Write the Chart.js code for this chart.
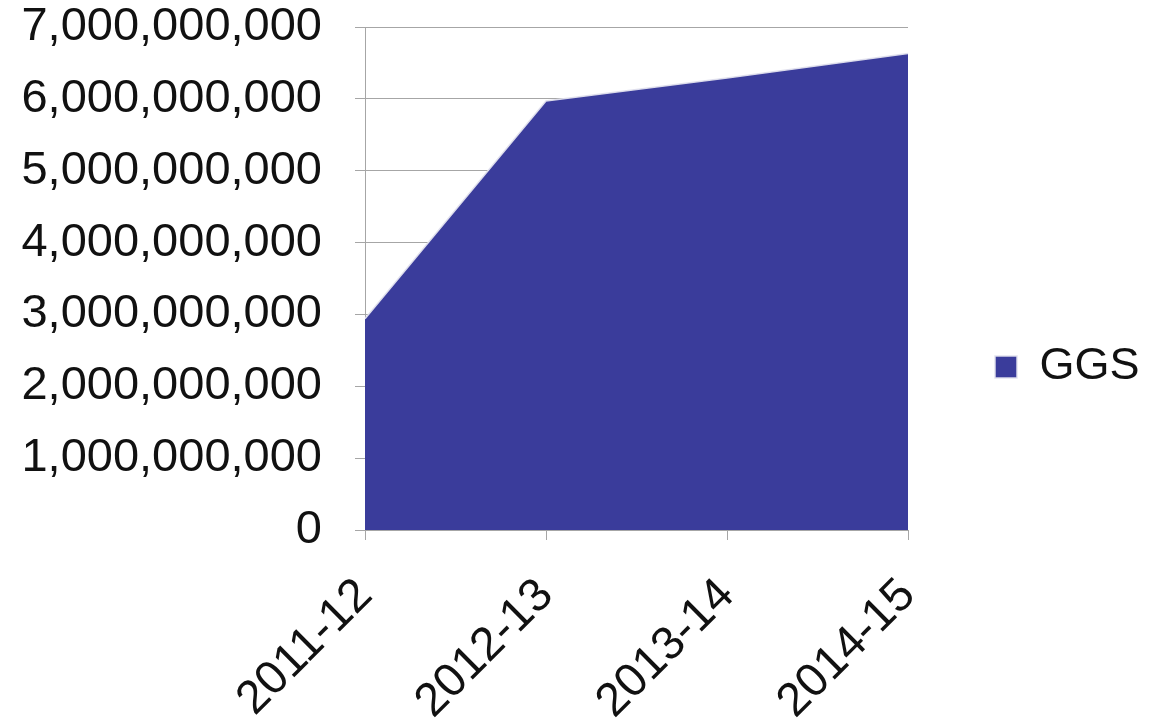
<!DOCTYPE html>
<html>
<head>
<meta charset="utf-8">
<script src="https://cdn.jsdelivr.net/npm/chart.js@4"></script>
<style>
  html, body { margin: 0; padding: 0; background: #fff; }
  #wrap { width: 1150px; height: 720px; position: relative; }
</style>
</head>
<body>
<div id="wrap"><canvas id="ggsChart"></canvas></div>
<script>
(() => {
  'use strict'

  const years = ['2011-12', '2012-13', '2013-14', '2014-15'];
  const ggsValues = [2940000000, 5970000000, 6290000000, 6630000000];
  const yTicks = [0, 1000000000, 2000000000, 3000000000, 4000000000, 5000000000, 6000000000, 7000000000];

  const fillColor = '#3a3c9b';
  const gridColor = '#a6a6a6';
  const fontFamily = '"Liberation Sans", Arial, sans-serif';

  Chart.defaults.font.family = fontFamily;
  Chart.defaults.color = '#111';

  // legend sits in a fixed 242px column on the right, item pushed in a bit
  const legendColumn = {
    id: 'legendColumn',
    beforeLayout(chart) {
      const legend = chart.legend;
      if (!legend || legend._fixedFit) return;
      const fit = legend.fit;
      legend.fit = function () {
        fit.call(this);
        this.width = 242;
      };
      legend._fixedFit = true;
    },
    afterLayout(chart) {
      if (chart.legend) {
        chart.legend.left += 77;
        chart.legend.top += 7;
        chart.legend.bottom += 7;
      }
    }
  };

  const ctx = document.getElementById('ggsChart');
  const ggsChart = new Chart(ctx, {
    type: 'line',
    data: {
      labels: years,
      datasets: [{
        label: 'GGS',
        data: ggsValues,
        fill: 'origin',
        tension: 0,
        backgroundColor: fillColor,
        borderColor: 'rgba(225,225,238,0.95)',
        borderWidth: 1.5,
        pointRadius: 0,
        pointHoverRadius: 0
      }]
    },
    options: {
      responsive: true,
      maintainAspectRatio: false,
      animation: false,
      layout: {
        padding: 0
      },
      scales: {
        x: {
          offset: false,
          grid: {
            display: true,
            drawOnChartArea: false,
            drawTicks: true,
            tickLength: 10,
            color: gridColor
          },
          border: { color: gridColor },
          ticks: {
            font: { size: 47 },
            color: '#111',
            minRotation: 45,
            maxRotation: 45,
            padding: 28
          },
          afterFit: (scale) => { scale.height = 190; }
        },
        y: {
          min: 0,
          max: 7000000000,
          afterBuildTicks: (scale) => {
            scale.ticks = yTicks.map(v => ({ value: v }));
          },
          grid: {
            color: gridColor,
            tickLength: 10
          },
          border: { color: gridColor },
          ticks: {
            font: { size: 47 },
            color: '#111',
            padding: 33,
            callback: (v) => Number(v).toLocaleString('en-US')
          },
          afterFit: (scale) => {
            scale.width = 365;
            scale.paddingTop = 27;
          }
        }
      },
      plugins: {
        legend: {
          display: true,
          position: 'right',
          labels: {
            font: { size: 45 },
            color: '#111',
            boxWidth: 22,
            boxHeight: 22,
            padding: 10
          }
        },
        tooltip: { enabled: false }
      }
    },
    plugins: [legendColumn]
  });
})();
</script>
</body>
</html>
